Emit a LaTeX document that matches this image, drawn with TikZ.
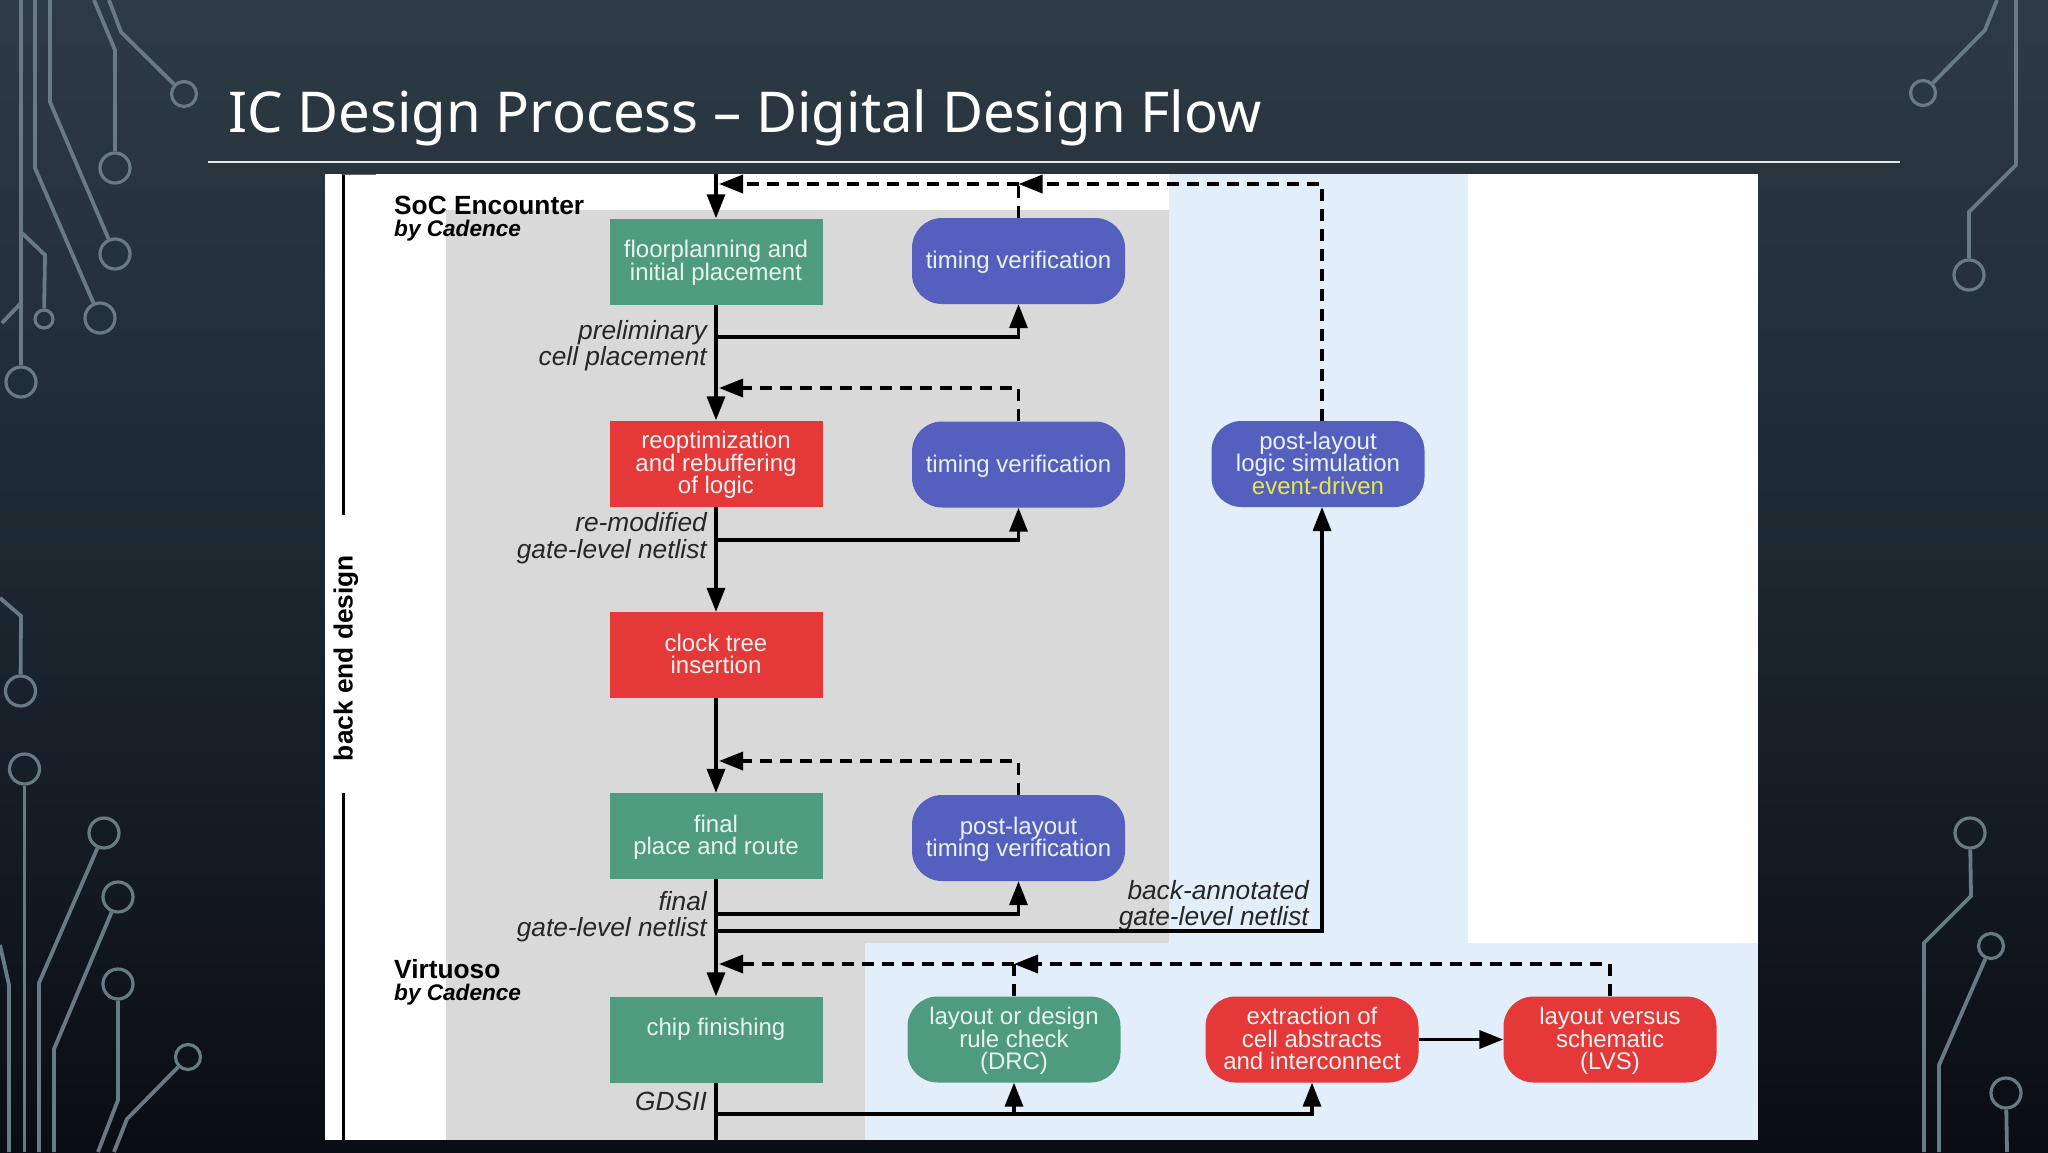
\documentclass[tikz,border=0pt]{standalone}
\usepackage{fontspec}
\setmainfont{Liberation Sans}
\newfontfamily\titlefont{Noto Sans}
\usetikzlibrary{arrows.meta}
\definecolor{bgtop}{HTML}{2D3B44}
\definecolor{bgmid}{HTML}{1C2730}
\definecolor{bgbot}{HTML}{0A0D13}
\definecolor{trace}{HTML}{687B84}
\definecolor{panelgray}{HTML}{D9D9D9}
\definecolor{panelblue}{HTML}{E3EEFB}
\definecolor{boxgreen}{HTML}{4F9B80}
\definecolor{boxred}{HTML}{E53838}
\definecolor{boxblue}{HTML}{5560BE}
\definecolor{boxtext}{HTML}{E8F3F1}
\definecolor{evtext}{HTML}{E6E84A}
\newcommand{\stepstrut}{\rule{0pt}{23pt}}
\newcommand{\stependstrut}{\rule[-8pt]{0pt}{8pt}}
\tikzset{
  via/.style={circle,draw=trace,line width=3.2pt,inner sep=0pt,minimum size=#1},
  wire/.style={draw=trace,line width=3.8pt},
  step/.style={rectangle,fill=#1,text=boxtext,minimum width=213pt,minimum height=86pt,
    inner sep=0pt,align=center,font=\fontsize{24}{22.5}\selectfont,
    execute at end node=\stependstrut},
  check/.style={step=#1,rounded corners=30pt},
  flow/.style={draw=black,line width=3.5pt,-{Triangle[length=24pt,width=18pt]}},
  plain/.style={draw=black,line width=3.5pt},
  fb/.style={draw=black,line width=3.5pt,dash pattern=on 12pt off 8pt,-{Triangle[length=24pt,width=18pt]}},
  fbplain/.style={draw=black,line width=3.5pt,dash pattern=on 12pt off 8pt},
  lab/.style={anchor=east,align=right,text=black!85,inner sep=0pt,
    font=\fontsize{26.3}{26.5}\selectfont\itshape},
  tool/.style={anchor=west,inner sep=0pt,font=\fontsize{26.3}{26}\selectfont\bfseries},
  vendor/.style={anchor=west,inner sep=0pt,font=\fontsize{22.6}{22.6}\selectfont\bfseries\itshape},
}
\begin{document}
\begin{tikzpicture}[x=1pt,y=-1pt]
\useasboundingbox (0,0) rectangle (2048,1152);
\shade[top color=bgtop,bottom color=bgbot,middle color=bgmid] (0,0) rectangle (2048,1152);

% circuit traces, left
\node[via=30pt] (v1) at (21,382) {};
\draw[wire] (21,0) -- (v1);
\node[via=30pt] (v2) at (100,318) {};
\draw[wire] (35,0) -- (35,168) -- (v2);
\node[via=30pt] (v3) at (115,254) {};
\draw[wire] (50,0) -- (50,102) -- (v3);
\node[via=30pt] (v4) at (115,168) {};
\draw[wire] (94,0) -- (115,50) -- (v4);
\node[via=25pt] (v5) at (184,94) {};
\draw[wire] (109,0) -- (121,32) -- (v5);
\node[via=18pt] (v6) at (44,319) {};
\draw[wire] (22,233) -- (45,255) -- (v6);
\draw[wire] (2,323) -- (21,303);
\node[via=30pt] (v7) at (20.5,691) {};
\draw[wire] (0,598) -- (21,616) -- (v7);
\node[via=30pt] (v8) at (24.5,769) {};
\draw[wire] (v8) -- (24.5,1152);
\node[via=30pt] (v9) at (104,833) {};
\draw[wire] (v9) -- (39,983) -- (39,1152);
\node[via=30pt] (v10) at (118,897) {};
\draw[wire] (v10) -- (54,1049) -- (54,1152);
\node[via=30pt] (v11) at (118,984) {};
\draw[wire] (v11) -- (118,1100) -- (98,1152);
\node[via=25pt] (v12) at (188,1057) {};
\draw[wire] (v12) -- (127,1119) -- (114,1152);
\draw[wire] (0,945) -- (9,985) -- (9,1152);

% circuit traces, right
\node[via=25pt] (v13) at (1923,93) {};
\draw[wire] (1997,0) -- (1985,30) -- (v13);
\node[via=30pt] (v14) at (1969,275) {};
\draw[wire] (2016,0) -- (2016,165) -- (1969,212) -- (v14);
\node[via=30pt] (v15) at (1970,833) {};
\draw[wire] (v15) -- (1971,896) -- (1924,943) -- (1924,1152);
\node[via=25pt] (v16) at (1991,946) {};
\draw[wire] (v16) -- (1939,1065) -- (1939,1152);
\node[via=30pt] (v17) at (2006,1093) {};
\draw[wire] (v17) -- (2007,1152);

% title
\node[anchor=base west,inner sep=0pt,text=white,font=\fontsize{56.3}{57}\selectfont\titlefont] (title) at (228,132.5) {IC Design Process – Digital Design Flow};
\draw[white!90!black,line width=1.6pt] (208,162) -- (1900,162);

% panels
\fill[white] (325,174) rectangle (1758,1140);
\fill[panelblue] (1169,174) rectangle (1468,943);
\fill[panelblue] (865,943) rectangle (1758,1140);
\fill[panelgray] (446,210) rectangle (1169,943);
\fill[panelgray] (446,943) rectangle (865,1140);

% back end bracket
\node[rotate=90,inner sep=0pt,font=\fontsize{26.3}{27}\selectfont\bfseries] (backend) at (346,658) {back end design};
\draw[line width=3pt] (343,174) -- (343,515);
\draw[line width=3pt] (343,793) -- (343,1140);
\draw[black!60,line width=1.5pt] (343,174.7) -- (376,174.7);

\node[tool] (soc) at (394,205) {SoC Encounter};
\node[vendor] (socby) at (394,231) {by Cadence};
\node[tool] (virt) at (394,969) {Virtuoso};
\node[vendor] (virtby) at (394,995) {by Cadence};

% flow boxes
\node[step=boxgreen] (floor) at (716,261.5) {\stepstrut floorplanning and\\initial placement};
\node[step=boxred] (reopt) at (716,463.5) {\stepstrut reoptimization\\and rebuffering\\of logic};
\node[step=boxred] (clock) at (716,655) {\stepstrut clock tree\\insertion};
\node[step=boxgreen] (final) at (716,836) {\stepstrut final\\place and route};
\node[step=boxgreen] (chip) at (716,1039.5) {\stepstrut chip finishing\\~};

\node[check=boxblue] (tv1) at (1018.5,261) {\stepstrut timing verification};
\node[check=boxblue] (tv2) at (1018.5,464.5) {\stepstrut timing verification};
\node[check=boxblue] (tv3) at (1018.5,838) {\stepstrut post-layout\\timing verification};
\node[check=boxblue] (sim) at (1318,464) {\stepstrut post-layout\\logic simulation\\\textcolor{evtext}{event-driven}};
\node[check=boxgreen] (drc) at (1014,1039.5) {\stepstrut layout or design\\rule check\\(DRC)};
\node[check=boxred] (ext) at (1312,1039.5) {\stepstrut extraction of\\cell abstracts\\and interconnect};
\node[check=boxred] (lvs) at (1610,1039.5) {\stepstrut layout versus\\schematic\\(LVS)};

% labels
\node[lab] (l1) at (707,345.5) {preliminary\\cell placement};
\node[lab] (l2) at (707,538) {re-modified\\gate-level netlist};
\node[lab] (l3) at (707,916.5) {final\\gate-level netlist};
\node[lab] (l4) at (707,1101) {GDSII};
\node[lab] (l5) at (1309,905.5) {back-annotated\\gate-level netlist};

% junctions on the main line
\coordinate (top) at (716,174);
\coordinate (end) at (716,1140);
\coordinate (f1) at (719,184);
\coordinate (f1m) at (1018.5,184);
\coordinate (f2) at (719,388);
\coordinate (f3) at (719,761);
\coordinate (f4) at (719,964);
\coordinate (f4m) at (1014,964);
\coordinate (b1) at (716,337);
\coordinate (b2) at (716,540);
\coordinate (b3) at (716,914);
\coordinate (b4) at (716,931);
\coordinate (b5) at (716,1114);
\coordinate (simin) at (1322,507);
\coordinate (simout) at (1322,421);

% main line
\draw[flow] (top) -- (floor.north);
\draw[flow] (floor.south) -- (reopt.north);
\draw[flow] (reopt.south) -- (clock.north);
\draw[flow] (clock.south) -- (final.north);
\draw[flow] (final.south) -- (chip.north);
\draw[plain] (chip.south) -- (end);

% to the checks
\draw[flow] (b1) -| (tv1.south);
\draw[flow] (b2) -| (tv2.south);
\draw[flow] (b3) -| (tv3.south);
\draw[flow] (b4) -| (simin);
\draw[flow] (b5) -| (drc.south);
\draw[flow] (b5) -| (ext.south);
\draw[flow] (ext.east) -- (lvs.west);

% feedback
\draw[fbplain] (tv1.north) -- (f1m);
\draw[fb] (simout) |- (f1m);
\draw[fb] (f1m) -- (f1);
\draw[fb] (tv2.north) |- (f2);
\draw[fb] (tv3.north) |- (f3);
\draw[fbplain] (drc.north) -- (f4m);
\draw[fb] (lvs.north) |- (f4m);
\draw[fb] (f4m) -- (f4);
\end{tikzpicture}
\end{document}
